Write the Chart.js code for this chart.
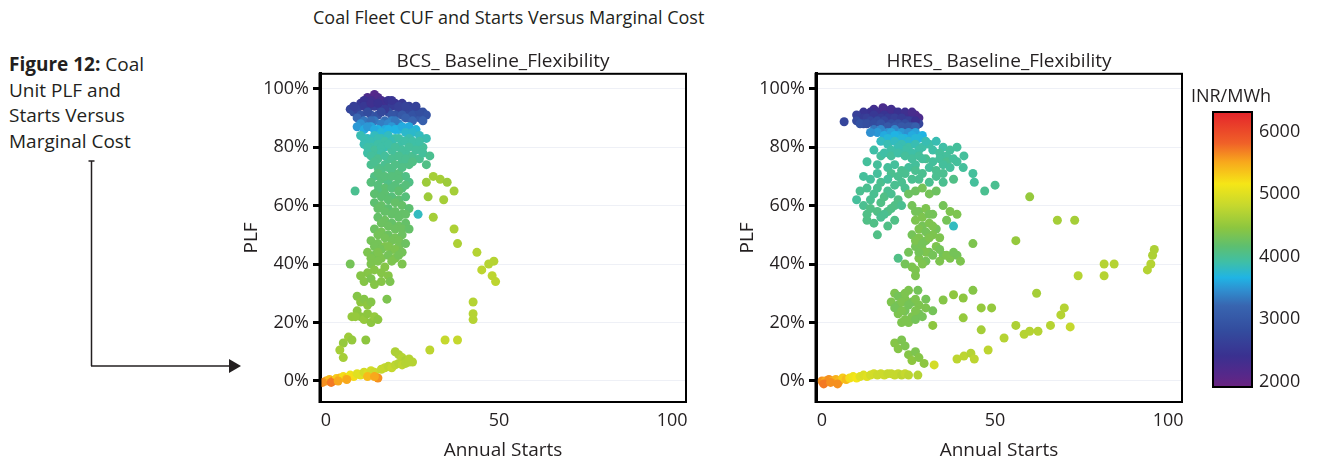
<!DOCTYPE html>
<html>
<head>
<meta charset="utf-8">
<script src="https://cdn.jsdelivr.net/npm/chart.js@4.4.1/dist/chart.umd.min.js"></script>
<style>
  body { margin: 0; width: 1317px; height: 467px; background: #fff; position: relative; overflow: hidden; font-family: "Open Sans", sans-serif; color: #231f20; }
  #mainTitle { position: absolute; left: 313px; top: 5px; font-size: 18px; white-space: nowrap; }
  #caption { position: absolute; left: 9px; top: 52px; font-size: 19px; line-height: 25.7px; }
  .panel { position: absolute; top: 40px; height: 427px; }
  #p1 { left: 230px; width: 470px; }
  #p2 { left: 726px; width: 591px; }
  svg { position: absolute; left: 0; top: 0; }
</style>
</head>
<body>
<div id="mainTitle">Coal Fleet CUF and Starts Versus Marginal Cost</div>
<div id="caption"><b>Figure 12:</b> Coal<br>Unit PLF and<br>Starts Versus<br>Marginal Cost</div>
<svg width="260" height="400">
  <line x1="91.5" y1="161" x2="91.5" y2="366" stroke="#231f20" stroke-width="1.5"/>
  <line x1="88.5" y1="161" x2="94.5" y2="161" stroke="#231f20" stroke-width="1.5"/>
  <line x1="91" y1="366" x2="231" y2="366" stroke="#231f20" stroke-width="1.5"/>
  <polygon points="229,359 241,366 229,373" fill="#231f20"/>
</svg>
<div class="panel" id="p1"><canvas id="bcs"></canvas></div>
<div class="panel" id="p2"><canvas id="hres"></canvas></div>
<script>
// [annual starts, PLF %, marginal cost INR/MWh]
const bcsPoints = [
  [12,97,2200],[14,98,2100],[15,97,2150],[13,96,2300],[16,96,2250],
  [10,95,2500],[11,96,2400],[17,95,2350],[18,96,2400],[20,95,2450],[22,95,2500],[19,94,2550],[24,94,2600],
  [7,93,2700],[8,92,2800],[9,93,2650],[12,93,2600],[14,94,2550],[16,93,2600],[21,93,2650],[23,92,2750],[25,93,2700],[26,92,2800],[28,92,2850],[29,91,2900],
  [10,91,2900],[13,91,2950],[15,91,2900],[18,92,2800],[20,91,2900],[22,91,3000],[24,90,3050],[27,90,3000],[28,89,3100],
  [8,94,2600],[11,94,2500],[13,95,2350],[15,95,2400],[17,93,2550],[19,96,2450],[21,94,2600],[23,94,2650],[25,91,2900],[27,92,2850],[26,94,2650],
  [12,92,2800],[16,92,2750],[19,91,2950],[23,90,3100],[25,89,3200],
  [9,90,3200],[11,89,3300],[14,89,3300],[17,89,3250],[19,89,3350],[21,88,3400],
  [13,89,3250],[16,88,3350],[18,88,3400],[20,89,3300],[10,88,3450],
  [9,87,3500],[11,86,3600],[13,87,3550],[15,86,3650],[17,86,3600],[19,87,3500],[21,86,3700],[24,87,3600],[26,86,3700],
  [12,87,3500],[14,86,3600],[20,86,3650],[22,87,3600],[16,85,3700],[18,86,3650],[23,85,3750],[25,85,3750],[27,84,3800],[29,83,3850],
  [10,84,3850],[12,83,3800],[14,84,3800],[16,83,3850],[18,84,3800],[20,83,3900],[22,82,3900],[24,83,3850],[26,81,3900],[28,80,3950],
  [11,83,3850],[13,82,3850],[15,83,3850],[17,82,3900],[19,82,3850],[21,83,3900],[23,82,3900],[25,82,3900],[27,82,3900],
  [11,81,3850],[13,80,3900],[15,81,3900],[17,80,3850],[19,79,3950],[21,80,3900],[23,78,3950],[25,77,4000],
  [12,80,3900],[14,79,3950],[16,80,3900],[18,81,3900],[20,80,3950],[22,79,3950],[24,80,3950],[26,79,3950],
  [12,78,3900],[14,77,3950],[16,78,3900],[18,76,4000],[20,77,3950],[22,75,4000],[24,74,4050],[27,76,4000],
  [13,77,3950],[15,76,4000],[17,77,3950],[19,76,4000],[21,77,4000],[23,76,4000],[25,75,4050],[28,78,3950],[30,77,4000],[29,74,4050],
  [13,74,4000],[15,73,4050],[17,74,4000],[19,72,4050],[21,71,4100],[23,70,4050],
  [14,75,4000],[16,72,4050],[18,73,4050],[20,74,4050],[22,73,4050],
  [14,70,4050],[16,69,4100],[18,68,4050],[20,67,4100],[22,66,4100],[24,68,4050],
  [15,71,4100],[17,70,4100],[19,70,4100],[21,69,4100],[23,67,4100],[13,68,4100],[15,67,4100],[17,66,4150],[19,66,4100],[21,65,4150],
  [15,65,4100],[17,64,4150],[19,63,4100],[21,62,4150],[23,63,4100],
  [14,64,4150],[16,63,4150],[18,62,4150],[20,61,4200],[22,60,4200],
  [14,61,4150],[16,60,4200],[18,59,4150],[20,58,4200],[22,57,4200],[24,59,4150],
  [15,59,4200],[17,58,4200],[19,57,4200],[21,56,4200],[23,57,4200],
  [15,56,4200],[17,55,4250],[19,54,4200],[21,53,4250],[23,54,4200],
  [16,54,4250],[18,53,4250],[20,52,4250],[22,52,4250],
  [14,52,4250],[16,51,4300],[18,50,4250],[20,49,4300],[22,50,4250],[24,52,4200],
  [15,50,4300],[17,49,4300],[19,48,4300],[21,48,4300],
  [13,48,4300],[15,47,4300],[17,46,4350],[19,45,4300],[21,46,4300],[23,47,4250],
  [14,46,4300],[16,45,4300],[18,46,4350],[20,45,4350],
  [12,44,4350],[14,43,4300],[16,42,4350],[18,43,4300],[20,42,4350],[22,44,4300],
  [13,42,4350],[15,44,4350],[19,41,4350],[21,43,4300],
  [13,40,4350],[15,41,4350],[17,39,4400],[14,38,4400],[16,37,4400],[12,37,4400],[18,36,4400],
  [8.4,65,4000],[26.6,57,3800],[7,40,4300],[22,40,4350],
  [29,68,4550],[31,70,4600],[33,69,4600],[35,68,4550],[37,65,4600],[29.5,63,4550],[34,62,4600],[31,56,4600],
  [37,52,4650],[38,47,4650],[43.6,44,4700],[47,40,4700],[48.5,41,4700],[45,38,4750],[48,36,4750],[49,34,4750],
  [10,36,4400],[11,34,4400],[13,35,4350],[14,33,4400],[16,34,4400],[18.5,34,4350],
  [9,29,4400],[10,27,4450],[11,28,4400],[12,26,4450],[13,27,4400],[17.6,28,4350],
  [9,24,4450],[10,22,4450],[11,21,4500],[12,23,4450],[13,20,4450],[14,22,4500],[15,21,4450],[7.5,22,4500],[8.5,22,4500],
  [42.5,21,4700],[42.5,23,4700],[42.5,27,4700],
  [5,13,4500],[6.5,15,4550],[7.5,14,4500],[11.5,14,4450],[4,10.6,4600],[5,8,4600],
  [20,10,4650],[21,9,4650],[22,8,4700],[23,7,4650],[24,7.5,4700],[25,6.5,4700],[30,10.6,4750],[34.4,14,4800],[38,14,4800],
  [0,0,5500],[1,0.5,5400],[2,0,5600],[3,0.8,5300],[4,1,5400],[5,1.5,5200],[6,1,5300],[7,2,5100],[8,1.5,5200],
  [9,2.5,5000],[10,2,5000],[11,3,4900],[12,2.5,4950],[13,3.5,4900],[14,3,4850],[15,1,5600],[16,4,4800],[17,4.5,4800],
  [18,5,4750],[19,4.5,4800],[20,5.5,4750],[21,6,4700],[22,5.5,4750],[23,6,4700],[24,6.5,4700],
  [-1,-0.5,5600],[1.5,-0.5,5700],[3.5,0,5500],[6,0.5,5500],[12,1.5,5400],[14,1.5,5500]
];

const hresPoints = [
  [6.4,88.7,2700],
  [15,93,2300],[17.6,93.5,2200],[19,92,2250],[14,92,2400],[21,92,2350],[23,91,2400],[25,91,2300],[27,91,2150],[28,90,2200],
  [12,92,2450],[16,92,2350],[18,93,2250],[20,93,2300],[22,92,2400],[24,92,2350],[26,92,2250],
  [10,91,2600],[12,90,2550],[16,90,2500],[18,91,2450],[20,90,2500],[22,89,2600],[24,89,2650],[26,89,2500],[28,88,2700],
  [13,90,2600],[15,91,2500],[17,90,2550],[19,90,2550],[21,90,2600],[23,90,2550],[25,89,2600],[27,89,2400],
  [14,89,2700],[16,89,2750],[18,89,2700],[20,88,2800],[22,88,2850],[24,88,2800],[26,87,2950],[12,88,2800],[10,89,2750],
  [11,88,2900],[13,88,2850],[15,88,2800],[17,88,2900],[19,87,3000],[21,87,2950],[23,87,3000],[25,87,3000],[27,87,3100],
  [15,86,3300],[17,86,3400],[19,85,3450],[21,86,3400],[23,85,3500],[25,85,3450],[27,85,3550],[29,84,3650],
  [16,85,3500],[18,84,3600],[20,85,3550],[22,84,3600],[24,83,3650],[26,84,3600],[28,83,3700],[14,85,3450],
  [21,84,3650],[23,83,3700],[19,83,3700],[25,82,3750],[27,83,3700],
  [17,82,3800],[19,81,3850],[21,82,3800],[23,81,3850],[25,80,3900],[27,81,3850],[29,80,3900],[31,81,3900],[33,82,3850],[35,80,3900],[37,79,3950],[39,80,3950],[30,82,3850],
  [32,79,3900],[34,78,3950],[36,77,3950],[28,79,3900],[26,78,3900],[24,79,3900],[22,80,3850],[20,79,3900],[17,77,3950],
  [15,79,3900],[18,78,3900],[20,77,3950],[22,78,3900],[24,77,3950],[26,76,3950],[28,77,3950],[30,76,4000],[32,75,3950],[34,76,3950],[36,75,4000],[38,76,3950],
  [31,73,3950],[27,74,3950],[29,76,3950],[39,75,3950],[41,77,3950],[35,74,3950],
  [13,75,3950],[16,74,3950],[19,73,3950],[21,74,3950],[23,72,4000],[25,73,3950],[27,72,4000],[29,71,4000],[33,72,4000],[35,71,4000],[37,73,3950],[40.8,73,3950],[43.6,71,3950],[44,68,3950],[47,65,4000],[50,67,4000],
  [24,71,4000],[22,70,4000],[20,71,4000],[16,71,3950],[28,69,4000],[35,68,4000],
  [12,70,3950],[14,69,3950],[17,68,4000],[19,69,3950],[21,67,4000],[23,68,4000],[26,69,4000],[31,68,4000],[33,70,4000],[38,69,4050],
  [24,66,4000],[16,66,4000],[19,65,4000],[14,62,4000],[17,61,4050],[21,60,4050],[10,62,3950],[13,57,4050],[19,58,4050],
  [11,65,4000],[13,66,4000],[15,64,4000],[18,63,4050],[20,64,4000],[22,62,4050],[25,64,4250],[27,65,4250],[29,66,4300],[31,64,4300],[33,65,4250],
  [12,60,4000],[14,59,4050],[16,58,4050],[18,57,4000],[20,59,4050],[23,60,4000],[13,55,4050],[15,54,4050],[17,56,4000],[19,53,4050],[21,55,4050],[16,50,4050],
  [26,60,4300],[28,58,4300],[30,59,4350],[32,57,4300],[27,55,4350],[29,53,4300],[31,54,4350],[33,52,4300],[26,50,4300],[28,49,4350],
  [30,48,4300],[32,50,4350],[27,46,4300],[29,45,4350],[31,44,4300],[33,46,4350],[28,42,4350],[30,41,4300],[26,39,4350],[27,36,4350],
  [27,58,4300],[29,56,4350],[31,57,4300],[28,52,4350],[30,51,4300],[32,53,4350],[27,48,4350],[29,47,4300],[31,49,4350],[30,44,4350],[32,43,4300],
  [29,40,4350],[27,38,4350],[28,44,4300],[34,49,4350],[35,43,4300],[37,42,4350],[39,43,4300],
  [35,60,4300],[37,58,4350],[36,55,4300],[39,57,4350],[38,53,3800],[43.6,47,4350],[34,45,4300],[36,43,4350],[38,44,4300],[40,41,4350],[34,41,4350],
  [22,42,4050],[24,40,4300],[25,44,4300],
  [60,63,4500],[56,48,4500],[68,55,4600],[73,55,4600],
  [94,38,4700],[95,40,4700],[95.5,43,4650],[96,45,4650],[81.5,40,4700],[84.4,40,4700],[81.5,36,4700],[74,36,4700],[62,30,4600],
  [21,30,4350],[23,29,4300],[25,31,4350],[27.7,31,4300],[20,27,4350],[22,26,4300],[24,28,4350],[26,27,4300],[28,26,4350],[30,28,4300],
  [22,23,4350],[24,24,4300],[26,22,4350],[28,23,4300],[30,25,4350],[32,24,4300],[25,20,4350],[27,21,4300],[23,20,4350],
  [22,29,4300],[24,30,4350],[23,27,4350],[25,26,4300],[27,28,4350],[21,25,4300],[23,24,4350],[27,24,4350],[29,22,4300],[24,21,4350],
  [35,27.7,4400],[38,29.5,4450],[40.8,28.4,4450],[43.6,31,4400],[46,25,4500],[49,25,4500],[40.8,21.6,4500],[32,19,4450],
  [46,17.5,4600],[56,19,4650],[52.6,14.7,4700],[58.4,16,4700],[60,17,4700],[62.4,17,4700],[66,19,4700],[69,22.6,4700],[70,25,4700],[71.7,18.5,4800],
  [48,10.6,4750],[39,7.5,4750],[41,8.5,4750],[43,9.5,4700],[44,7.5,4750],
  [21,13,4400],[23,14,4350],[22,11,4400],[24,12,4350],[25,9,4400],[27,10,4350],[26,7,4450],[28,8,4400],[29.5,6,4450],[32.4,5.5,4900],
  [0,0,5600],[1,0,5500],[2,0.5,5600],[3,0,5500],[4,0.5,5450],[5,0,5400],[6,1,5300],[7,0.5,5400],[8,1,5200],[9,1.5,5100],
  [10,1,5150],[11,1.5,5000],[12,2,4950],[13,1.5,5000],[14,2,4900],[15,2.5,4900],[16,2,4850],[17,2.5,4850],[18,2,4850],
  [19,2.5,4800],[20,2.5,4800],[21,2,4800],[22,2.5,4800],[23,2,4750],[24,2.5,4800],[25,2,4750],[27.7,2,4700],
  [0.5,-1,5700],[2.5,-0.5,5600],[4.5,-1,5600]
];

const startTicks = [0, 50, 100];
const plfTicks = [0, 20, 40, 60, 80, 100];
const costTicks = [2000, 3000, 4000, 5000, 6000];

// colour scale of the marginal cost legend
const costStops = [
  [1900, '#6a2480'], [2100, '#55288a'], [2400, '#3a3190'], [2800, '#334c9e'], [3200, '#3865b0'],
  [3450, '#2f8fd0'], [3650, '#20b4e4'], [3900, '#3fbfa6'], [4150, '#5dbf70'], [4450, '#8dc63f'],
  [4800, '#c5d82e'], [5150, '#f5e617'], [5500, '#f8a81c'], [5800, '#f06128'], [6300, '#e4242b']
];
const costMin = 1900, costMax = 6300;

function hexToRgb(h) {
  return [parseInt(h.slice(1, 3), 16), parseInt(h.slice(3, 5), 16), parseInt(h.slice(5, 7), 16)];
}
function costColor(v) {
  if (v <= costStops[0][0]) return costStops[0][1];
  for (let i = 1; i < costStops.length; i++) {
    if (v <= costStops[i][0]) {
      const [v0, c0] = costStops[i - 1], [v1, c1] = costStops[i];
      const t = (v - v0) / (v1 - v0);
      const a = hexToRgb(c0), b = hexToRgb(c1);
      return 'rgb(' + a.map((x, k) => Math.round(x + (b[k] - x) * t)).join(',') + ')';
    }
  }
  return costStops[costStops.length - 1][1];
}

const font = 'Open Sans';
const ink = '#231f20';

// black box round the plot area
const framePlugin = {
  id: 'frame',
  afterDraw(chart) {
    const { ctx, chartArea: a } = chart;
    ctx.save();
    ctx.strokeStyle = '#000';
    ctx.lineWidth = 2;
    ctx.strokeRect(a.left, a.top, a.right - a.left, a.bottom - a.top);
    ctx.lineWidth = 3;
    ctx.beginPath();
    ctx.moveTo(a.left, a.top - 1);
    ctx.lineTo(a.left, a.bottom + 1);
    ctx.stroke();
    ctx.restore();
  }
};

// colour bar drawn to the right of the second panel
const colorBarPlugin = {
  id: 'colorBar',
  afterDraw(chart) {
    const { ctx } = chart;
    const x0 = 487, x1 = 526, y0 = 72, y1 = 347;
    const toY = v => y1 - (v - costMin) / (costMax - costMin) * (y1 - y0);
    const g = ctx.createLinearGradient(0, y1, 0, y0);
    costStops.forEach(([v, c]) => g.addColorStop((v - costMin) / (costMax - costMin), c));
    ctx.save();
    ctx.fillStyle = g;
    ctx.fillRect(x0, y0, x1 - x0, y1 - y0);
    ctx.strokeStyle = '#000';
    ctx.lineWidth = 2;
    ctx.strokeRect(x0, y0, x1 - x0, y1 - y0);
    ctx.fillStyle = ink;
    ctx.font = '18px "' + font + '"';
    ctx.textBaseline = 'middle';
    ctx.textAlign = 'left';
    costTicks.forEach(v => ctx.fillText(String(v), 533, toY(v) + 1));
    ctx.textAlign = 'center';
    ctx.fillText('INR/MWh', 505, 57);
    ctx.restore();
  }
};

function makeChart(id, title, points, extraPlugins) {
  return new Chart(document.getElementById(id), {
    type: 'scatter',
    data: {
      datasets: [{
        data: points.map(p => ({ x: p[0], y: p[1], c: p[2] })),
        backgroundColor: ctx => costColor(ctx.raw ? ctx.raw.c : 4000),
        borderWidth: 0,
        pointRadius: 4.5,
        pointHoverRadius: 4.5
      }]
    },
    options: {
      responsive: true,
      maintainAspectRatio: false,
      animation: false,
      events: [],
      layout: { padding: { left: 0, right: id === 'hres' ? 135 : 14, top: 0, bottom: 0 } },
      plugins: {
        legend: { display: false },
        tooltip: { enabled: false },
        title: {
          display: true,
          text: title,
          fullSize: false,
          color: ink,
          font: { family: font, size: 19, weight: 'normal' },
          padding: { top: 10, bottom: 1 }
        }
      },
      scales: {
        x: {
          type: 'linear',
          min: -1.73,
          max: 104,
          afterBuildTicks: axis => { axis.ticks = startTicks.map(v => ({ value: v })); },
          afterFit: axis => { axis.height = 65; },
          ticks: { color: ink, font: { family: font, size: 18 }, padding: 8 },
          grid: { display: false, drawTicks: false },
          border: { display: true, color: '#000', width: 2 },
          title: { display: true, text: 'Annual Starts', color: ink, font: { family: font, size: 19 }, padding: { top: 0, bottom: 5 } }
        },
        y: {
          type: 'linear',
          min: -7.2,
          max: 105.1,
          afterBuildTicks: axis => { axis.ticks = plfTicks.map(v => ({ value: v })); },
          afterFit: axis => { axis.width = 90; },
          ticks: { color: ink, font: { family: font, size: 18 }, padding: 4, callback: v => v + '%' },
          grid: { color: '#eef0f6', lineWidth: 1, drawTicks: true, tickLength: 7, tickColor: '#000', tickWidth: 3 },
          border: { display: true, color: '#000', width: 3 },
          title: { display: true, text: 'PLF', color: ink, font: { family: font, size: 19 }, padding: { top: 10, bottom: 0 } }
        }
      }
    },
    plugins: [framePlugin].concat(extraPlugins || [])
  });
}

makeChart('bcs', 'BCS_ Baseline_Flexibility', bcsPoints);
makeChart('hres', 'HRES_ Baseline_Flexibility', hresPoints, [colorBarPlugin]);
</script>
</body>
</html>
